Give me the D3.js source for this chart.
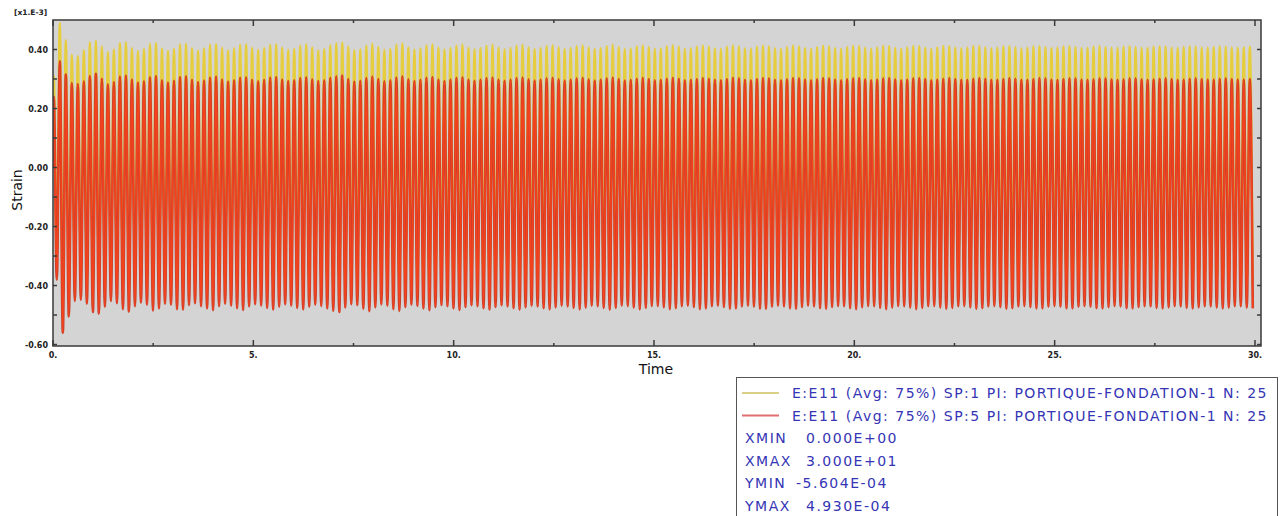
<!DOCTYPE html>
<html>
<head>
<meta charset="utf-8">
<script src="https://cdn.jsdelivr.net/npm/d3@7"></script>
<style>
  html, body { margin: 0; padding: 0; background: #ffffff; }
  svg { display: block; }
</style>
</head>
<body>
<svg id="chart" width="1285" height="516"></svg>
<script>
// Strain history E11 at two section points (values in units of 1e-3).
// One maximum and one minimum per loading cycle.
const cyclePeriod = 0.15;      // s
const firstPeak = 0.02;        // s

const sp1Max = [0.310,0.490,0.432,0.382,0.378,0.398,0.425,0.430,0.410,0.392,
  0.400,0.422,0.425,0.405,0.395,0.402,0.420,0.422,0.404,0.396,
  0.403,0.418,0.420,0.405,0.397,0.404,0.417,0.419,0.406,0.398,
  0.404,0.416,0.418,0.406,0.399,0.405,0.416,0.418,0.407,0.399,
  0.403,0.414,0.418,0.408,0.398,0.402,0.415,0.421,0.424,0.410,
  0.398,0.401,0.414,0.420,0.409,0.399,0.403,0.416,0.421,0.408,
  0.400,0.404,0.415,0.418,0.407,0.400,0.405,0.414,0.417,0.407,
  0.401,0.405,0.413,0.416,0.407,0.401,0.405,0.413,0.416,0.408,
  0.402,0.405,0.412,0.415,0.408,0.402,0.405,0.412,0.415,0.408,
  0.402,0.405,0.412,0.416,0.409,0.402,0.404,0.411,0.415,0.409,
  0.403,0.404,0.411,0.415,0.410,0.403,0.404,0.410,0.414,0.410,
  0.404,0.403,0.410,0.415,0.411,0.404,0.403,0.410,0.414,0.411,
  0.404,0.403,0.409,0.414,0.411,0.405,0.403,0.409,0.414,0.411,
  0.405,0.403,0.409,0.413,0.412,0.406,0.403,0.408,0.413,0.412,
  0.406,0.403,0.408,0.413,0.412,0.407,0.403,0.408,0.412,0.412,
  0.407,0.404,0.407,0.412,0.412,0.408,0.404,0.407,0.411,0.412,
  0.408,0.404,0.407,0.411,0.412,0.409,0.405,0.407,0.411,0.412,
  0.409,0.405,0.406,0.410,0.412,0.409,0.406,0.406,0.410,0.412,
  0.409,0.406,0.406,0.410,0.411,0.410,0.407,0.406,0.409,0.411,
  0.410,0.407,0.406,0.409,0.411,0.410,0.407,0.406,0.408,0.410];

const sp1Min = [-0.290,-0.455,-0.410,-0.362,-0.358,-0.371,-0.398,-0.402,-0.381,-0.362,
  -0.369,-0.389,-0.396,-0.379,-0.367,-0.374,-0.394,-0.387,-0.371,-0.374,
  -0.389,-0.391,-0.375,-0.369,-0.379,-0.387,-0.393,-0.379,-0.371,-0.377,
  -0.386,-0.392,-0.380,-0.372,-0.377,-0.385,-0.391,-0.381,-0.373,-0.377,
  -0.385,-0.390,-0.381,-0.374,-0.378,-0.387,-0.395,-0.399,-0.384,-0.372,
  -0.375,-0.388,-0.396,-0.383,-0.373,-0.377,-0.389,-0.395,-0.382,-0.374,
  -0.378,-0.387,-0.393,-0.382,-0.375,-0.379,-0.387,-0.392,-0.382,-0.376,
  -0.379,-0.386,-0.391,-0.382,-0.376,-0.380,-0.386,-0.391,-0.383,-0.377,
  -0.380,-0.386,-0.390,-0.383,-0.377,-0.380,-0.385,-0.390,-0.384,-0.377,
  -0.379,-0.385,-0.391,-0.385,-0.377,-0.378,-0.384,-0.390,-0.385,-0.378,
  -0.378,-0.383,-0.389,-0.386,-0.379,-0.377,-0.382,-0.389,-0.387,-0.379,
  -0.377,-0.382,-0.388,-0.387,-0.380,-0.377,-0.381,-0.388,-0.388,-0.381,
  -0.377,-0.380,-0.387,-0.388,-0.382,-0.377,-0.380,-0.386,-0.388,-0.382,
  -0.378,-0.379,-0.386,-0.389,-0.383,-0.378,-0.379,-0.385,-0.389,-0.384,
  -0.378,-0.379,-0.384,-0.389,-0.385,-0.379,-0.378,-0.384,-0.388,-0.385,
  -0.379,-0.378,-0.383,-0.388,-0.386,-0.380,-0.378,-0.382,-0.388,-0.386,
  -0.380,-0.378,-0.382,-0.387,-0.387,-0.381,-0.378,-0.381,-0.387,-0.387,
  -0.381,-0.378,-0.381,-0.386,-0.387,-0.382,-0.378,-0.380,-0.386,-0.387,
  -0.382,-0.379,-0.380,-0.385,-0.387,-0.383,-0.379,-0.380,-0.385,-0.387,
  -0.383,-0.379,-0.380,-0.384,-0.387,-0.384,-0.379,-0.379,-0.384,-0.386];

const sp5Max = [0.240,0.360,0.315,0.286,0.283,0.292,0.310,0.318,0.301,0.282,
  0.290,0.308,0.312,0.298,0.288,0.292,0.306,0.310,0.296,0.288,
  0.294,0.307,0.309,0.297,0.290,0.295,0.305,0.308,0.298,0.291,
  0.296,0.304,0.306,0.297,0.292,0.297,0.305,0.307,0.298,0.293,
  0.296,0.303,0.306,0.299,0.293,0.296,0.304,0.309,0.312,0.300,
  0.291,0.294,0.303,0.308,0.300,0.292,0.296,0.305,0.309,0.299,
  0.293,0.297,0.304,0.307,0.298,0.293,0.298,0.304,0.306,0.298,
  0.294,0.298,0.303,0.305,0.298,0.294,0.298,0.303,0.305,0.299,
  0.295,0.298,0.302,0.304,0.299,0.295,0.298,0.302,0.304,0.299,
  0.295,0.298,0.302,0.305,0.300,0.295,0.297,0.301,0.304,0.300,
  0.296,0.297,0.301,0.304,0.301,0.296,0.297,0.300,0.303,0.301,
  0.297,0.296,0.300,0.304,0.302,0.297,0.296,0.300,0.303,0.302,
  0.297,0.296,0.299,0.303,0.302,0.298,0.296,0.299,0.303,0.302,
  0.298,0.296,0.299,0.302,0.303,0.299,0.296,0.298,0.302,0.303,
  0.299,0.296,0.298,0.302,0.303,0.300,0.296,0.298,0.301,0.303,
  0.300,0.297,0.297,0.301,0.303,0.301,0.297,0.297,0.300,0.303,
  0.301,0.297,0.297,0.300,0.303,0.302,0.298,0.297,0.300,0.302,
  0.302,0.298,0.297,0.299,0.302,0.302,0.299,0.297,0.299,0.302,
  0.302,0.299,0.297,0.299,0.301,0.302,0.300,0.297,0.298,0.301,
  0.302,0.300,0.298,0.298,0.301,0.302,0.300,0.298,0.298,0.300];

const sp5Min = [-0.380,-0.560,-0.505,-0.452,-0.448,-0.462,-0.490,-0.495,-0.472,-0.452,
  -0.460,-0.480,-0.488,-0.470,-0.458,-0.465,-0.485,-0.478,-0.462,-0.465,
  -0.480,-0.482,-0.466,-0.460,-0.470,-0.478,-0.484,-0.470,-0.462,-0.468,
  -0.477,-0.483,-0.471,-0.463,-0.468,-0.476,-0.482,-0.472,-0.464,-0.468,
  -0.476,-0.481,-0.472,-0.465,-0.469,-0.478,-0.486,-0.490,-0.475,-0.463,
  -0.466,-0.479,-0.487,-0.474,-0.464,-0.468,-0.480,-0.486,-0.473,-0.465,
  -0.469,-0.478,-0.484,-0.473,-0.466,-0.470,-0.478,-0.483,-0.473,-0.467,
  -0.470,-0.477,-0.482,-0.473,-0.467,-0.471,-0.477,-0.482,-0.474,-0.468,
  -0.471,-0.477,-0.481,-0.474,-0.468,-0.471,-0.476,-0.481,-0.475,-0.468,
  -0.470,-0.476,-0.482,-0.476,-0.468,-0.469,-0.475,-0.481,-0.476,-0.469,
  -0.469,-0.474,-0.480,-0.477,-0.470,-0.468,-0.473,-0.480,-0.478,-0.470,
  -0.468,-0.473,-0.479,-0.478,-0.471,-0.468,-0.472,-0.479,-0.479,-0.472,
  -0.468,-0.471,-0.478,-0.479,-0.473,-0.468,-0.471,-0.477,-0.479,-0.473,
  -0.469,-0.470,-0.477,-0.480,-0.474,-0.469,-0.470,-0.476,-0.480,-0.475,
  -0.469,-0.470,-0.475,-0.480,-0.476,-0.470,-0.469,-0.475,-0.479,-0.476,
  -0.470,-0.469,-0.474,-0.479,-0.477,-0.471,-0.469,-0.473,-0.479,-0.477,
  -0.471,-0.469,-0.473,-0.478,-0.478,-0.472,-0.469,-0.472,-0.478,-0.478,
  -0.472,-0.469,-0.472,-0.477,-0.478,-0.473,-0.469,-0.471,-0.477,-0.478,
  -0.473,-0.470,-0.471,-0.476,-0.478,-0.474,-0.470,-0.471,-0.476,-0.478,
  -0.474,-0.470,-0.471,-0.475,-0.478,-0.475,-0.470,-0.470,-0.475,-0.477];

const xTicks = [0, 5, 10, 15, 20, 25, 30];
const xTickLabels = ["0.", "5.", "10.", "15.", "20.", "25.", "30."];
const yTicks = [0.4, 0.2, 0.0, -0.2, -0.4, -0.6];
const yTickLabels = ["0.40", "0.20", "0.00", "-0.20", "-0.40", "-0.60"];

const legendEntries = [
  "E:E11 (Avg: 75%) SP:1 PI: PORTIQUE-FONDATION-1 N: 25",
  "E:E11 (Avg: 75%) SP:5 PI: PORTIQUE-FONDATION-1 N: 25"
];
const limitNames = ["XMIN", "XMAX", "YMIN", "YMAX"];
const limitValues = ["0.000E+00", "3.000E+01", "-5.604E-04", "4.930E-04"];

const svg = d3.select("#chart");
const plot = { left: 53, right: 1261, top: 20, bottom: 346 };

const x = d3.scaleLinear().domain([0, 30.15]).range([plot.left, plot.right]);
const y = d3.scaleLinear().domain([-0.605, 0.5]).range([plot.bottom, plot.top]);

// Build the alternating peak / trough sequence of each series
function buildSeries(maxs, mins) {
  const pts = [{ t: 0, v: 0 }];
  maxs.forEach((m, k) => {
    const tPeak = firstPeak + k * cyclePeriod;
    pts.push({ t: tPeak, v: m });
    pts.push({ t: tPeak + cyclePeriod / 2, v: mins[k] });
  });
  return pts;
}
const sp1 = buildSeries(sp1Max, sp1Min);
const sp5 = buildSeries(sp5Max, sp5Min);

// plot area
svg.append("rect")
  .attr("x", plot.left).attr("y", plot.top)
  .attr("width", plot.right - plot.left).attr("height", plot.bottom - plot.top)
  .attr("fill", "#d4d4d4");

svg.append("defs").append("clipPath").attr("id", "clip")
  .append("rect")
  .attr("x", plot.left).attr("y", plot.top)
  .attr("width", plot.right - plot.left).attr("height", plot.bottom - plot.top);

const line = d3.line().x(d => x(d.t)).y(d => y(d.v)).curve(d3.curveMonotoneX);

const curves = svg.append("g").attr("clip-path", "url(#clip)");
curves.append("path").datum(sp1)
  .attr("d", line).attr("fill", "none")
  .attr("stroke", "#e6cd3e").attr("stroke-width", 2.4);
curves.append("path").datum(sp5)
  .attr("d", line).attr("fill", "none")
  .attr("stroke", "#c8402e").attr("stroke-width", 2.6);
curves.append("path").datum(sp5)
  .attr("d", line).attr("fill", "none")
  .attr("stroke", "#f4421c").attr("stroke-width", 1.6);

// frame
svg.append("rect")
  .attr("x", plot.left).attr("y", plot.top)
  .attr("width", plot.right - plot.left).attr("height", plot.bottom - plot.top)
  .attr("fill", "none").attr("stroke", "#3a3a3a").attr("stroke-width", 1.5);

// ticks (inward, on all four sides)
const ax = svg.append("g").attr("stroke", "#3a3a3a").attr("stroke-width", 1.5);
const xMinor = d3.range(0, 31, 2.5);
xMinor.forEach(v => {
  const major = v % 5 === 0;
  const len = major ? 6 : 3;
  ax.append("line").attr("x1", x(v)).attr("x2", x(v))
    .attr("y1", plot.bottom).attr("y2", plot.bottom - len);
  ax.append("line").attr("x1", x(v)).attr("x2", x(v))
    .attr("y1", plot.top).attr("y2", plot.top + len);
});
const yMinor = d3.range(-6, 5).map(i => i / 10);
yMinor.forEach(v => {
  ax.append("line").attr("x1", plot.left).attr("x2", plot.left + 4)
    .attr("y1", y(v)).attr("y2", y(v));
  ax.append("line").attr("x1", plot.right).attr("x2", plot.right - 4)
    .attr("y1", y(v)).attr("y2", y(v));
});

// tick labels
const tickFont = "'DejaVu Sans', Verdana, sans-serif";
svg.append("g").selectAll("text").data(xTicks).join("text")
  .attr("x", d => x(d)).attr("y", 358)
  .attr("text-anchor", "middle")
  .attr("font-family", tickFont).attr("font-size", 8).attr("font-weight", "bold")
  .attr("fill", "#222")
  .text((d, i) => xTickLabels[i]);

svg.append("g").selectAll("text").data(yTicks).join("text")
  .attr("x", 48).attr("y", d => y(d) + 3)
  .attr("text-anchor", "end")
  .attr("font-family", tickFont).attr("font-size", 8).attr("font-weight", "bold")
  .attr("fill", "#222")
  .text((d, i) => yTickLabels[i]);

svg.append("text")
  .attr("x", 14).attr("y", 15)
  .attr("font-family", tickFont).attr("font-size", 7.5).attr("font-weight", "bold")
  .attr("fill", "#222")
  .text("[x1.E-3]");

// axis titles
svg.append("text")
  .attr("transform", "translate(22,190) rotate(-90)")
  .attr("text-anchor", "middle")
  .attr("font-family", tickFont).attr("font-size", 14)
  .attr("fill", "#111")
  .text("Strain");

svg.append("text")
  .attr("x", 656).attr("y", 374)
  .attr("text-anchor", "middle")
  .attr("font-family", tickFont).attr("font-size", 14)
  .attr("fill", "#111")
  .text("Time");

// legend
const lg = svg.append("g")
  .attr("font-family", tickFont).attr("font-size", 14)
  .attr("letter-spacing", 1.5).attr("fill", "#3535b5");
lg.append("rect")
  .attr("x", 736.5).attr("y", 377.5).attr("width", 541).attr("height", 150)
  .attr("fill", "#ffffff").attr("stroke", "#555").attr("stroke-width", 1);

const legendColors = ["#d9cf86", "#e07070"];
const rowY = d3.range(6).map(i => 393 + i * 22.6);
legendEntries.forEach((txt, i) => {
  lg.append("line")
    .attr("x1", 742).attr("x2", 779)
    .attr("y1", rowY[i]).attr("y2", rowY[i])
    .attr("stroke", legendColors[i]).attr("stroke-width", 2);
  lg.append("text")
    .attr("x", 792).attr("y", rowY[i] + 5)
    .text(txt);
});
limitNames.forEach((name, i) => {
  const yy = rowY[i + 2] + 5;
  lg.append("text")
    .attr("x", 745).attr("y", yy)
    .text(name);
  lg.append("text")
    .attr("x", limitValues[i].startsWith("-") ? 796 : 806).attr("y", yy)
    .text(limitValues[i]);
});
</script>
</body>
</html>
